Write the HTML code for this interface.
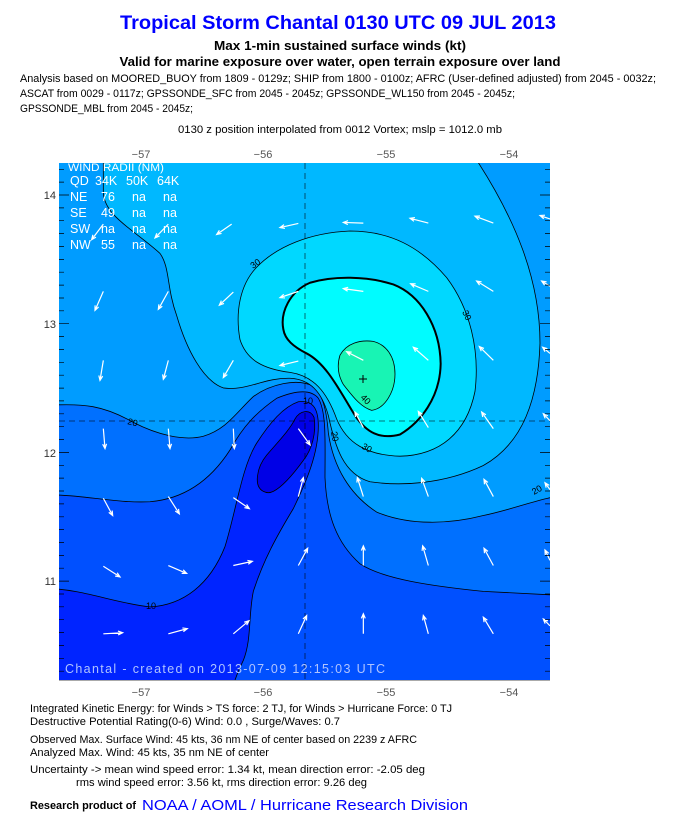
<!DOCTYPE html>
<html><head><meta charset="utf-8"><style>
html,body{margin:0;padding:0;background:#fff;}
svg{display:block;font-family:"Liberation Sans",sans-serif;}
</style></head><body>
<svg id="s" width="675" height="832" viewBox="0 0 675 832" xmlns="http://www.w3.org/2000/svg">
<rect width="675" height="832" fill="#fff"/>
<text x="338" y="29" text-anchor="middle" font-size="19" font-weight="bold" fill="#0000ff" textLength="436" lengthAdjust="spacingAndGlyphs">Tropical Storm Chantal 0130 UTC 09 JUL 2013</text>
<text x="340" y="50" text-anchor="middle" font-size="12.5" font-weight="bold" fill="#000" textLength="252" lengthAdjust="spacingAndGlyphs">Max 1-min sustained surface winds (kt)</text>
<text x="340" y="66" text-anchor="middle" font-size="12.5" font-weight="bold" fill="#000" textLength="441" lengthAdjust="spacingAndGlyphs">Valid for marine exposure over water, open terrain exposure over land</text>
<g font-size="11" fill="#000">
<text x="20" y="82" textLength="636" lengthAdjust="spacingAndGlyphs">Analysis based on MOORED_BUOY from 1809 - 0129z; SHIP from 1800 - 0100z; AFRC (User-defined adjusted) from 2045 - 0032z;</text>
<text x="20" y="97" textLength="495" lengthAdjust="spacingAndGlyphs">ASCAT from 0029 - 0117z; GPSSONDE_SFC from 2045 - 2045z; GPSSONDE_WL150 from 2045 - 2045z;</text>
<text x="20" y="112" textLength="173" lengthAdjust="spacingAndGlyphs">GPSSONDE_MBL from 2045 - 2045z;</text>
<text x="178" y="133" textLength="324" lengthAdjust="spacingAndGlyphs">0130 z position interpolated from 0012 Vortex; mslp = 1012.0 mb</text>
</g>
<g font-size="11" fill="#555" text-anchor="middle">
<text x="141" y="158">−57</text><text x="263" y="158">−56</text><text x="386" y="158">−55</text><text x="509" y="158">−54</text>
<text x="141" y="696">−57</text><text x="263" y="696">−56</text><text x="386" y="696">−55</text><text x="509" y="696">−54</text>
</g>
<g font-size="11" fill="#333" text-anchor="end">
<text x="56" y="199">14</text><text x="56" y="328">13</text><text x="56" y="457">12</text><text x="56" y="585">11</text>
</g>
<defs><clipPath id="cp"><rect x="59" y="163" width="491" height="517"/></clipPath></defs>
<g clip-path="url(#cp)">
<g transform="translate(50,150) scale(0.33333,0.34483)" stroke="#000" stroke-width="0.8">
<rect x="0" y="0" width="1600" height="1700" fill="#0050ff" stroke="none"/>
<path vector-effect="non-scaling-stroke" fill="#0070ff" d="M0,1000 C100,1000 200,1025 300,1020 C400,1012 480,960 540,870 C580,800 620,760 680,720 C730,700 780,690 805,720 C830,760 825,850 825,950 C830,1060 860,1140 930,1200 C1000,1245 1150,1265 1300,1280 L1600,1295 L1600,0 L0,0 Z"/>
<path vector-effect="non-scaling-stroke" fill="#009cff" d="M0,740 C100,735 160,740 250,790 C320,825 400,845 460,830 C530,810 560,760 610,715 C660,680 740,660 790,685 C820,710 830,760 835,820 C850,920 900,1000 980,1050 C1080,1090 1200,1085 1300,1060 C1400,1040 1460,1010 1600,990 L1600,0 L0,0 Z"/>
<path vector-effect="non-scaling-stroke" fill="#00b8ff" d="M160,0 L160,120 C160,190 250,230 330,300 C360,340 350,400 380,480 C410,580 460,670 520,690 C590,700 640,660 720,662 C780,665 815,700 835,770 C855,860 880,940 960,962 C1050,975 1180,970 1300,915 C1420,850 1465,720 1470,560 C1470,380 1400,200 1260,0 Z"/>
<path vector-effect="non-scaling-stroke" fill="#00d8ff" d="M620,340 C570,390 555,470 570,550 C590,610 640,635 720,645 C790,655 830,700 860,780 C890,850 950,885 1050,888 C1170,885 1250,820 1275,700 C1290,580 1260,460 1190,370 C1110,280 1020,235 900,235 C780,240 680,280 620,340 Z"/>
<path vector-effect="non-scaling-stroke" fill="#00fcff" stroke-width="2" d="M700,520 C690,470 720,410 780,385 C850,365 950,365 1030,390 C1110,420 1170,510 1172,620 C1170,720 1110,790 1050,825 C990,840 950,820 915,770 C870,700 830,620 770,590 C730,570 705,550 700,520 Z"/>
<path vector-effect="non-scaling-stroke" fill="#18f4b4" d="M870,595 C890,560 930,550 970,555 C1010,565 1035,600 1035,650 C1035,700 1005,750 965,755 C930,745 905,710 880,680 C862,650 862,620 870,595 Z"/>
<path vector-effect="non-scaling-stroke" fill="#0024ff" d="M0,1272 C100,1275 200,1315 300,1325 C400,1320 480,1260 525,1150 C560,1040 575,920 620,850 C660,790 700,745 745,730 C785,725 805,745 805,800 C805,880 770,960 730,1040 C680,1120 640,1190 610,1280 C595,1350 605,1420 580,1480 C560,1520 540,1560 520,1700 L0,1700 Z"/>
<path vector-effect="non-scaling-stroke" fill="#0000e6" d="M640,990 C610,975 620,920 650,885 C690,840 720,810 735,780 C750,755 780,750 792,775 C800,820 785,870 760,900 C730,940 700,975 670,990 C660,995 650,995 640,990 Z"/>
</g>
<line x1="305" y1="163" x2="305" y2="680" stroke="#000" stroke-width="0.8" stroke-dasharray="6,4" opacity="0.7"/>
<line x1="59" y1="421" x2="550" y2="421" stroke="#000" stroke-width="0.8" stroke-dasharray="6,4" opacity="0.7"/>
<g id="arrows" stroke="#fff" stroke-width="1.2" fill="none"></g>
<path d="M359,379 h8 M363,375 v8" stroke="#000" stroke-width="1"/>
<g font-size="9" fill="#000" font-family="Liberation Sans,sans-serif">
<text x="127" y="424" transform="rotate(15 127 424)">20</text>
<text x="253" y="269" transform="rotate(-35 253 269)">30</text>
<text x="303" y="404">10</text>
<text x="331" y="432" transform="rotate(80 331 432)">20</text>
<text x="360" y="398" transform="rotate(45 360 398)">40</text>
<text x="361" y="448" transform="rotate(30 361 448)">30</text>
<text x="462" y="312" transform="rotate(65 462 312)">30</text>
<text x="534" y="495" transform="rotate(-30 534 495)">20</text>
<text x="146" y="609">10</text>
</g>
<g fill="#fff" font-size="12.5" font-family="Liberation Sans,sans-serif">
<text x="68" y="171" font-size="11" textLength="96" lengthAdjust="spacingAndGlyphs">WIND RADII (NM)</text>
<text x="70" y="185">QD</text><text x="95" y="185">34K</text><text x="126" y="185">50K</text><text x="157" y="185">64K</text>
<text x="70" y="201">NE</text><text x="101" y="201">76</text><text x="132" y="201">na</text><text x="163" y="201">na</text>
<text x="70" y="217">SE</text><text x="101" y="217">49</text><text x="132" y="217">na</text><text x="163" y="217">na</text>
<text x="70" y="233">SW</text><text x="101" y="233">na</text><text x="132" y="233">na</text><text x="163" y="233">na</text>
<text x="70" y="249">NW</text><text x="101" y="249">55</text><text x="132" y="249">na</text><text x="163" y="249">na</text>
</g>
<text x="65" y="673" fill="#b0c4ff" font-size="12.5" textLength="320" lengthAdjust="spacing">Chantal - created on 2013-07-09 12:15:03 UTC</text>
<g id="ticks" stroke="#000" stroke-width="0.7"></g>
</g>
<line x1="59" y1="680.5" x2="550" y2="680.5" stroke="#aaa" stroke-width="1"/>
<g font-size="11" fill="#000">
<text x="30" y="712" textLength="422" lengthAdjust="spacingAndGlyphs">Integrated Kinetic Energy: for Winds &gt; TS force: 2 TJ, for Winds &gt; Hurricane Force: 0 TJ</text>
<text x="30" y="725" textLength="310" lengthAdjust="spacingAndGlyphs">Destructive Potential Rating(0-6)   Wind: 0.0 , Surge/Waves: 0.7</text>
<text x="30" y="743" textLength="387" lengthAdjust="spacingAndGlyphs">Observed Max. Surface Wind: 45 kts, 36 nm NE of center based on 2239 z AFRC</text>
<text x="30" y="756" textLength="239" lengthAdjust="spacingAndGlyphs">Analyzed Max. Wind: 45 kts, 35 nm  NE of center</text>
<text x="30" y="773" textLength="395" lengthAdjust="spacingAndGlyphs">Uncertainty -&gt; mean wind speed error: 1.34 kt, mean direction error:  -2.05 deg</text>
<text x="76" y="786" textLength="291" lengthAdjust="spacingAndGlyphs">rms wind speed error: 3.56 kt, rms direction error: 9.26 deg</text>
<text x="30" y="809" font-weight="bold" textLength="106" lengthAdjust="spacingAndGlyphs">Research product of</text>
</g>
<text x="142" y="810" font-size="15" fill="#0000ff" textLength="326" lengthAdjust="spacingAndGlyphs">NOAA / AOML / Hurricane Research Division</text>
</svg>
<script>
var A=[[545,215,500,245],[745,213,690,225],[940,212,880,210],[1135,212,1080,198],[1330,212,1275,192],[1500,200,1470,190],[160,215,125,260],[355,215,315,255],
[160,410,135,465],[355,410,325,462],[550,412,508,450],[745,410,690,428],[940,410,880,402],[1135,410,1082,388],[1330,410,1280,380],[1500,395,1475,380],
[160,610,150,668],[355,610,340,665],[550,610,520,660],[745,612,690,625],[940,610,890,585],[1135,610,1090,572],[1330,610,1288,570],[1500,590,1478,572],
[160,808,165,866],[355,808,360,866],[550,808,553,866],[745,808,780,855],[940,805,915,760],[1135,805,1105,758],[1330,808,1295,760],[1500,785,1480,765],
[160,1010,188,1060],[355,1005,388,1055],[550,1008,598,1040],[745,1005,760,950],[940,1005,922,950],[1135,1005,1115,952],[1330,1005,1302,955],[1500,985,1485,965],
[160,1207,210,1238],[355,1205,410,1228],[550,1205,607,1193],[745,1205,773,1155],[940,1205,940,1148],[1135,1205,1118,1148],[1330,1205,1302,1155],[1500,1190,1485,1160],
[160,1403,218,1400],[355,1403,412,1388],[550,1403,597,1365],[745,1403,770,1350],[940,1403,940,1345],[1135,1403,1120,1350],[1330,1403,1300,1355],[1500,1380,1480,1360]];
var g=document.getElementById('arrows'),ns='http://www.w3.org/2000/svg',d='';
A.forEach(function(a){var x1=50+a[0]/3,y1=150+a[1]/2.9,x2=50+a[2]/3,y2=150+a[3]/2.9;
var an=Math.atan2(y2-y1,x2-x1),h=5;
d+='M'+x1+','+y1+'L'+x2+','+y2+'M'+(x2-h*Math.cos(an-0.4))+','+(y2-h*Math.sin(an-0.4))+'L'+x2+','+y2+'L'+(x2-h*Math.cos(an+0.4))+','+(y2-h*Math.sin(an+0.4));});
var p=document.createElementNS(ns,'path');p.setAttribute('d',d);g.appendChild(p);
var t=document.getElementById('ticks'),td='';
for(var la=10.3;la<=14.3;la+=0.1){var y=195+(14-la)*128.7;if(y<163||y>680)continue;var mj=Math.abs(la-Math.round(la))<0.01;var L=mj?10:5;
td+='M59,'+y.toFixed(1)+'h'+L+'M550,'+y.toFixed(1)+'h-'+L;}
var q=document.createElementNS(ns,'path');q.setAttribute('d',td);t.appendChild(q);
</script>
</body></html>
